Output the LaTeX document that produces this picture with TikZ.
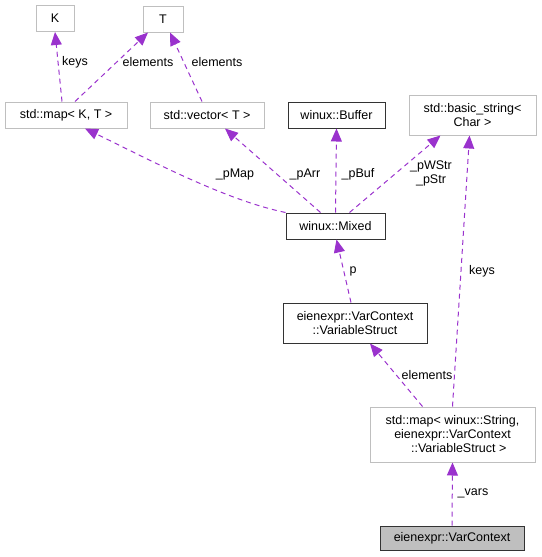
\documentclass[tikz,border=0pt]{standalone}
\usepackage{fontspec}
\setmainfont{Liberation Sans}
\usepackage{tikz}
\usetikzlibrary{arrows.meta}

\definecolor{usecol}{HTML}{9A32CD}
\definecolor{greyline}{HTML}{BFBFBF}

\begin{document}
\begin{tikzpicture}[x=1pt,y=-1pt,
        font=\fontsize{12.5}{14}\selectfont,
        gbox/.style = {draw=greyline, line width=1pt, fill=white, inner sep=0pt, align=center, minimum height=26pt},
        bbox/.style = {draw=black!80, line width=1pt, fill=white, inner sep=0pt, align=center, minimum height=26pt},
        cur/.style = {bbox, fill=greyline},
        use/.style = {draw=usecol, line width=1pt, dash pattern=on 5pt off 4pt, -{Triangle[length=13pt,width=11pt]}},
        lbl/.style = {inner sep=1pt, align=center}]
        \useasboundingbox (0,0) rectangle (541,557);
        \node[gbox, minimum width=38pt] at (55, 18.5) (K) {K};
        \node[gbox, minimum width=40pt] at (163, 19) (T) {T};
        \node[gbox, minimum width=122pt] at (66, 115) (mapKT) {std::map< K, T >};
        \node[gbox, minimum width=114pt] at (207, 115) (vecT) {std::vector< T >};
        \node[bbox, minimum width=97pt] at (336.5, 115) (buffer) {winux::Buffer};
        \node[gbox, minimum width=127pt, minimum height=40pt] at (472.5, 115) (bstr) {std::basic\_string<\\Char >};
        \node[bbox, minimum width=99pt] at (335.5, 226) (mixed) {winux::Mixed};
        \node[bbox, minimum width=144pt, minimum height=40pt] at (355, 323) (varstruct) {eienexpr::VarContext\\::VariableStruct};
        \node[gbox, minimum width=165pt, minimum height=55pt] at (452.5, 434.5) (mapstr) {std::map< winux::String,\\eienexpr::VarContext\\\quad::VariableStruct >};
        \node[cur, minimum width=144pt, minimum height=24pt] at (452, 538) (varctx) {eienexpr::VarContext};
        \draw[use] ([xshift=-4pt]mapKT.north) -- (K.south);
        \draw[use] ([xshift=9pt]mapKT.north) -- ([xshift=-15pt]T.south);
        \draw[use] ([xshift=-5pt]vecT.north) -- ([xshift=7pt]T.south);
        \draw[use] (mixed.north west) .. controls (225,200) and (150,160) .. ([xshift=19pt]mapKT.south);
        \draw[use] ([xshift=-15pt]mixed.north) -- ([xshift=18pt]vecT.south);
        \draw[use] (mixed.north) -- (buffer.south);
        \draw[use] ([xshift=14pt]mixed.north) -- ([xshift=-32pt]bstr.south);
        \draw[use] ([xshift=-4pt]varstruct.north) -- ([xshift=1pt]mixed.south);
        \draw[use] ([xshift=-30pt]mapstr.north) -- ([xshift=15pt]varstruct.south);
        \draw[use] (mapstr.north) -- ([xshift=-3pt]bstr.south);
        \draw[use] (varctx.north) -- (mapstr.south);
        \node[lbl] at (75, 62) (l1) {keys};
        \node[lbl] at (148, 62) (l2) {elements};
        \node[lbl] at (217, 62) (l3) {elements};
        \node[lbl] at (235, 174) (l4) {\_pMap};
        \node[lbl] at (305, 174) (l5) {\_pArr};
        \node[lbl] at (358, 174) (l6) {\_pBuf};
        \node[lbl] at (431, 173) (l7) {\_pWStr\\\_pStr};
        \node[lbl] at (353, 271) (l8) {p};
        \node[lbl] at (482, 271) (l9) {keys};
        \node[lbl] at (427, 375) (l10) {elements};
        \node[lbl] at (473, 493) (l11) {\_vars};
\end{tikzpicture}
\end{document}
